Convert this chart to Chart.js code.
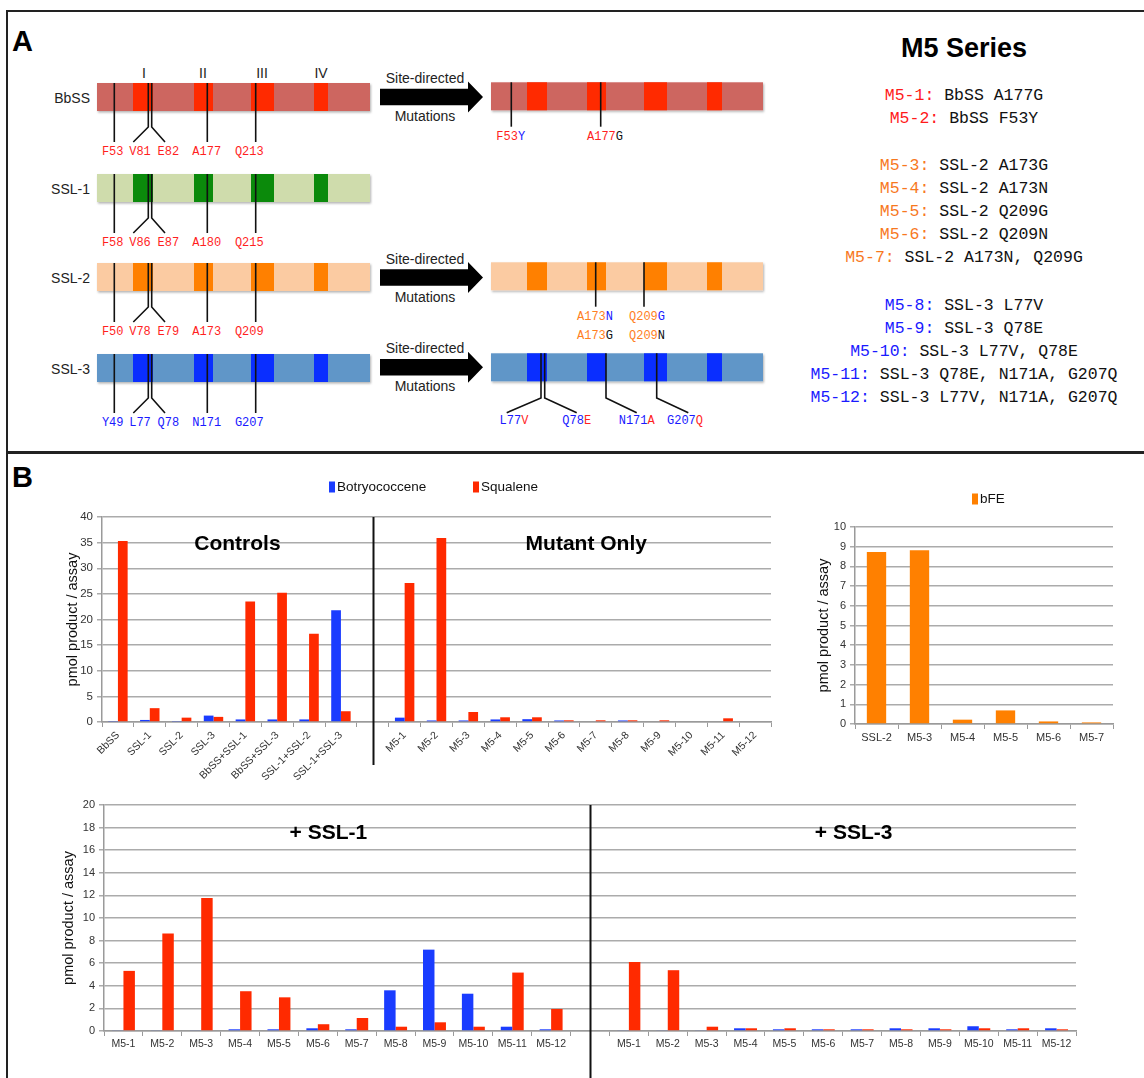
<!DOCTYPE html>
<html>
<head>
<meta charset="utf-8">
<script src="https://cdn.jsdelivr.net/npm/chart.js@4.4.0/dist/chart.umd.min.js"></script>
<style>
  html, body { margin: 0; padding: 0; background: #fff; }
  #page { position: relative; width: 1144px; height: 1078px; overflow: hidden; font-family: 'Liberation Sans', Arial, sans-serif; }
  .frame { position: absolute; left: 6px; top: 10px; width: 1160px; height: 1100px; border: 2px solid #222; }
  .split { position: absolute; left: 6px; top: 451px; width: 1160px; height: 3px; background: #222; }
  .letter { position: absolute; left: 12px; font-weight: bold; font-size: 29px; line-height: 30px; }
  #diagram { position: absolute; left: 0; top: 0; }
  #series { position: absolute; left: 780px; top: 0; width: 368px; }
  #series div { position: absolute; left: 0; width: 368px; text-align: center; white-space: pre; }
  .title { font-weight: bold; font-size: 27px; height: 32px; line-height: 32px; }
  .line { font-family: 'Liberation Mono', 'Courier New', monospace; font-size: 16.5px; height: 22px; line-height: 22px; color: #111; }
  canvas { position: absolute; }
</style>
</head>
<body>
<div id="page">
  <div class="frame"></div>
  <div class="split"></div>
  <div class="letter" style="top:26px">A</div>
  <div class="letter" style="top:462px">B</div>
  <svg id="diagram" width="800" height="450"></svg>
  <div id="series"></div>
  <canvas id="chartTop" width="730" height="320" style="left:60px; top:470px"></canvas>
  <canvas id="chartBfe" width="319" height="266" style="left:811px; top:488px"></canvas>
  <canvas id="chartBottom" width="1040" height="298" style="left:56px; top:780px"></canvas>
</div>

<script>
/* ---------- DATA ---------- */
const controlLabels = ['BbSS', 'SSL-1', 'SSL-2', 'SSL-3', 'BbSS+SSL-1', 'BbSS+SSL-3', 'SSL-1+SSL-2', 'SSL-1+SSL-3'];
const mutantLabels = ['M5-1', 'M5-2', 'M5-3', 'M5-4', 'M5-5', 'M5-6', 'M5-7', 'M5-8', 'M5-9', 'M5-10', 'M5-11', 'M5-12'];

const botryControls    = [0.2, 0.4, 0.2, 1.25, 0.5, 0.5, 0.5, 21.8];
const squaleneControls = [35.3, 2.7, 0.85, 1.0, 23.5, 25.2, 17.2, 2.1];
const botryMutant      = [0.85, 0.3, 0.3, 0.5, 0.55, 0.3, 0.15, 0.3, 0.15, 0.15, 0.15, 0.15];
const squaleneMutant   = [27.1, 35.9, 1.95, 0.92, 0.92, 0.33, 0.33, 0.33, 0.33, 0.15, 0.72, 0.15];

const bfeLabels = ['SSL-2', 'M5-3', 'M5-4', 'M5-5', 'M5-6', 'M5-7'];
const bfeValues = [8.73, 8.82, 0.22, 0.69, 0.13, 0.08];

const botrySSL1    = [0.06, 0.06, 0.06, 0.15, 0.15, 0.24, 0.15, 3.6, 7.2, 3.3, 0.38, 0.15];
const squaleneSSL1 = [5.32, 8.63, 11.76, 3.52, 2.98, 0.6, 1.15, 0.38, 0.77, 0.38, 5.17, 1.95];
const botrySSL3    = [0.06, 0.06, 0.06, 0.24, 0.15, 0.15, 0.15, 0.24, 0.24, 0.42, 0.15, 0.24];
const squaleneSSL3 = [6.1, 5.38, 0.38, 0.24, 0.24, 0.15, 0.15, 0.15, 0.15, 0.24, 0.24, 0.15];

const topTicks = [0, 5, 10, 15, 20, 25, 30, 35, 40];

/* colours */
const BLUE = '#1a3cff';
const RED = '#ff2a00';
const ORANGE = '#ff8000';

/* ---------- PANEL A : diagram ---------- */
const constructs = [
  {name: 'BbSS', light: '#cd6660', dark: '#ff2a00', sites: ['F53', 'V81', 'E82', 'A177', 'Q213'], siteColor: '#ff1f1f'},
  {name: 'SSL-1', light: '#cfdcac', dark: '#0b8a0b', sites: ['F58', 'V86', 'E87', 'A180', 'Q215'], siteColor: '#ff1f1f'},
  {name: 'SSL-2', light: '#fbcba2', dark: '#ff8000', sites: ['F50', 'V78', 'E79', 'A173', 'Q209'], siteColor: '#ff1f1f'},
  {name: 'SSL-3', light: '#6096c8', dark: '#0a2eff', sites: ['Y49', 'L77', 'Q78', 'N171', 'G207'], siteColor: '#1a1aff'},
];
const rowTops = [83, 174, 263, 354];
const leftSegs = [[133, 153], [194, 213], [251, 274], [314, 328]];
const rightSegs = [[527, 547], [587, 606], [644, 667], [707, 722]];
const siteLabelX = [112.7, 140, 168.3, 206.7, 249.3];

const R = '#ff1f1f', Bl = '#1a1aff', O = '#ff7f1f', K = '#111';

function buildDiagram(){
  const s = [];
  const mono = "font-family:'Liberation Mono','Courier New',monospace;font-size:12px";
  const sans = "font-family:'Liberation Sans',Arial,sans-serif;font-size:14px";
  s.push('<defs><filter id="sh" x="-5%" y="-20%" width="110%" height="150%"><feDropShadow dx="1" dy="1.5" stdDeviation="1" flood-opacity="0.3"/></filter></defs>');

  function bar(x1, x2, top, c, segs){
    s.push(`<rect x="${x1}" y="${top}" width="${x2 - x1}" height="28" fill="${c.light}" filter="url(#sh)"/>`);
    segs.forEach(function(g){
      s.push(`<rect x="${g[0]}" y="${top}" width="${g[1] - g[0]}" height="28" fill="${c.dark}"/>`);
    });
  }
  function ln(pts){
    s.push(`<polyline points="${pts}" fill="none" stroke="#111" stroke-width="1.6"/>`);
  }
  function txt(x, y, parts, style, anchor){
    const spans = parts.map(p => `<tspan fill="${p[1]}">${p[0]}</tspan>`).join('');
    s.push(`<text x="${x}" y="${y}" text-anchor="${anchor || 'middle'}" dominant-baseline="central" style="${style}">${spans}</text>`);
  }

  /* roman numerals */
  [['I', 144], ['II', 203], ['III', 262], ['IV', 321]].forEach(function(r){
    txt(r[1], 73, [[r[0], '#222']], sans);
  });

  /* wild-type constructs */
  constructs.forEach(function(c, i){
    const t = rowTops[i];
    bar(97, 370, t, c, leftSegs);
    txt(90, t + 15, [[c.name, '#222']], sans, 'end');
    ln(`114.3,${t} 114.3,${t + 59}`);
    ln(`148.3,${t} 148.3,${t + 44} 133.3,${t + 59}`);
    ln(`151.7,${t} 151.7,${t + 44} 165,${t + 59}`);
    ln(`207.3,${t} 207.3,${t + 59}`);
    ln(`255.7,${t} 255.7,${t + 59}`);
    c.sites.forEach(function(site, k){
      txt(siteLabelX[k], t + 68.5, [[site, c.siteColor]], mono);
    });
  });

  /* arrows */
  [97, 277.5, 367.3].forEach(function(c){
    s.push(`<polygon points="380,${c - 8.3} 468,${c - 8.3} 468,${c - 15.5} 483,${c} 468,${c + 15.5} 468,${c + 8.3} 380,${c + 8.3}" fill="#000"/>`);
    txt(425, c - 19, [['Site-directed', '#222']], sans);
    txt(425, c + 19, [['Mutations', '#222']], sans);
  });

  /* mutated constructs */
  bar(491, 763, 82.3, constructs[0], rightSegs);
  ln('511.3,82.3 511.3,126.7');
  ln('600.7,82.3 600.7,126.7');
  txt(510.7, 136.7, [['F53', R], ['Y', Bl]], mono);
  txt(605, 136.7, [['A177', R], ['G', K]], mono);

  bar(491, 763, 262.3, constructs[2], rightSegs);
  ln('595.7,262.3 595.7,306.7');
  ln('644,262.3 644,306.7');
  txt(595, 317.3, [['A173', O], ['N', Bl]], mono);
  txt(647, 317.3, [['Q209', O], ['G', Bl]], mono);
  txt(595, 335.7, [['A173', O], ['G', K]], mono);
  txt(647, 335.7, [['Q209', O], ['N', K]], mono);

  bar(491, 763, 353.3, constructs[3], rightSegs);
  ln('541,353.3 541,398 506.7,412.7');
  ln('544.7,353.3 544.7,398 576.7,412.7');
  ln('606,353.3 606,398 636.7,412.7');
  ln('656.7,353.3 656.7,398 688.3,412.7');
  txt(514, 420.7, [['L77', Bl], ['V', R]], mono);
  txt(576.7, 420.7, [['Q78', Bl], ['E', R]], mono);
  txt(636.7, 420.7, [['N171', Bl], ['A', R]], mono);
  txt(685, 420.7, [['G207', Bl], ['Q', R]], mono);

  document.getElementById('diagram').innerHTML = s.join('');
}

/* M5 series list */
const seriesNames = ['M5-1', 'M5-2', 'M5-3', 'M5-4', 'M5-5', 'M5-6', 'M5-7', 'M5-8', 'M5-9', 'M5-10', 'M5-11', 'M5-12'];
const seriesDesc = ['BbSS A177G', 'BbSS F53Y', 'SSL-2 A173G', 'SSL-2 A173N', 'SSL-2 Q209G', 'SSL-2 Q209N',
  'SSL-2 A173N, Q209G', 'SSL-3 L77V', 'SSL-3 Q78E', 'SSL-3 L77V, Q78E', 'SSL-3 Q78E, N171A, G207Q', 'SSL-3 L77V, N171A, G207Q'];
const seriesColor = ['#ff1a1a', '#ff1a1a', '#f7781e', '#f7781e', '#f7781e', '#f7781e', '#f7781e',
  '#1a1aff', '#1a1aff', '#1a1aff', '#1a1aff', '#1a1aff'];
const seriesY = [96, 119, 165.7, 188.7, 212, 235, 258.3, 305.7, 328.7, 352, 375, 398];

function buildSeries(){
  const box = document.getElementById('series');
  let html = '<div class="title" style="top:32px">M5 Series</div>';
  seriesNames.forEach(function(n, i){
    html += `<div class="line" style="top:${seriesY[i] - 11}px"><span style="color:${seriesColor[i]}">${n}:</span> ${seriesDesc[i]}</div>`;
  });
  box.innerHTML = html;
}

/* ---------- PANEL B : charts ---------- */
Chart.defaults.font.family = "'Liberation Sans', Arial, sans-serif";
Chart.defaults.color = '#333';
Chart.defaults.animation = false;

/* titles, divider lines and legend drawn on top of the chart */
const overlayPlugin = {
  id: 'overlay',
  afterDraw(chart, args, opts){
    const {ctx, chartArea, scales: {x, y}} = chart;
    const step = x.getPixelForValue(1) - x.getPixelForValue(0);
    const xAt = i => x.getPixelForValue(0) + i * step;
    ctx.save();
    (opts.dividers || []).forEach(function(d){
      const px = Math.round(xAt(d.index)) + 0.5;
      ctx.beginPath();
      ctx.strokeStyle = '#111';
      ctx.lineWidth = 2;
      ctx.moveTo(px, chartArea.top);
      ctx.lineTo(px, d.bottom);
      ctx.stroke();
    });
    ctx.fillStyle = '#000';
    ctx.textAlign = 'center';
    ctx.textBaseline = 'middle';
    ctx.font = "bold 21px 'Liberation Sans', Arial, sans-serif";
    (opts.titles || []).forEach(function(t){
      ctx.fillText(t.text, xAt(t.index), y.getPixelForValue(t.value));
    });
    if(opts.legend){
      ctx.font = "13.5px 'Liberation Sans', Arial, sans-serif";
      ctx.textAlign = 'left';
      chart.data.datasets.forEach(function(ds, i){
        const lx = opts.legend.xs[i];
        ctx.fillStyle = ds.backgroundColor;
        ctx.fillRect(lx, opts.legend.y - 5.5, 6, 11);
        ctx.fillStyle = '#111';
        ctx.fillText(ds.label, lx + 8, opts.legend.y);
      });
    }
    ctx.restore();
  }
};

function axisX(fontSize, rotation, height){
  return {
    grid: {drawOnChartArea: false, drawTicks: true, tickLength: 5, color: '#9a9a9a', offset: true},
    border: {color: '#9a9a9a', width: 1.5},
    ticks: {font: {size: fontSize}, color: '#333', autoSkip: false, minRotation: rotation, maxRotation: rotation, padding: 2},
    afterFit: function(scale){ scale.height = height; },
  };
}
function axisY(max, stepSize, width, fontSize){
  return {
    min: 0,
    max: max,
    ticks: {stepSize: stepSize, font: {size: fontSize}, color: '#333', padding: 4},
    grid: {color: '#ababab', lineWidth: 1.5, tickLength: 5},
    border: {display: true, color: '#9a9a9a', width: 1.5},
    title: {display: true, text: 'pmol product / assay', font: {size: 14.5}, color: '#111', padding: {top: 4, bottom: 0}},
    afterFit: function(scale){ scale.width = width; },
  };
}

function createTopChart(){
  const labels = [...controlLabels, '', ...mutantLabels];
  new Chart(document.getElementById('chartTop'), {
    type: 'bar',
    data: {
      labels: labels,
      datasets: [
        {label: 'Botryococcene', backgroundColor: BLUE, data: [...botryControls, null, ...botryMutant]},
        {label: 'Squalene', backgroundColor: RED, data: [...squaleneControls, null, ...squaleneMutant]},
      ],
    },
    options: {
      responsive: false,
      categoryPercentage: 0.61,
      barPercentage: 1,
      layout: {padding: {top: 47, right: 19, left: 0, bottom: 0}},
      scales: {
        x: axisX(10.5, 45, 68),
        y: Object.assign(axisY(40, 5, 42, 11.5), {afterBuildTicks: function(scale){ scale.ticks = topTicks.map(v => ({value: v})); }}),
      },
      plugins: {
        legend: {display: false},
        tooltip: {enabled: false},
        overlay: {
          dividers: [{index: 8, bottom: 295}],
          titles: [{text: 'Controls', index: 3.75, value: 34.7}, {text: 'Mutant Only', index: 14.7, value: 34.7}],
          legend: {xs: [269, 413], y: 17},
        },
      },
    },
    plugins: [overlayPlugin],
  });
}

function createBfeChart(){
  new Chart(document.getElementById('chartBfe'), {
    type: 'bar',
    data: {
      labels: bfeLabels,
      datasets: [{label: 'bFE', backgroundColor: ORANGE, data: bfeValues}],
    },
    options: {
      responsive: false,
      categoryPercentage: 0.45,
      barPercentage: 1,
      layout: {padding: {top: 39, right: 17, left: 0, bottom: 0}},
      scales: {
        x: axisX(11, 0, 30),
        y: axisY(10, 1, 44, 11),
      },
      plugins: {
        legend: {display: false},
        tooltip: {enabled: false},
        overlay: {legend: {xs: [161], y: 11}},
      },
    },
    plugins: [overlayPlugin],
  });
}

function createBottomChart(){
  new Chart(document.getElementById('chartBottom'), {
    type: 'bar',
    data: {
      labels: [...mutantLabels, '', ...mutantLabels],
      datasets: [
        {label: 'Botryococcene', backgroundColor: BLUE, data: [...botrySSL1, null, ...botrySSL3]},
        {label: 'Squalene', backgroundColor: RED, data: [...squaleneSSL1, null, ...squaleneSSL3]},
      ],
    },
    options: {
      responsive: false,
      categoryPercentage: 0.59,
      barPercentage: 1,
      layout: {padding: {top: 25, right: 20, left: 0, bottom: 0}},
      scales: {
        x: axisX(10.5, 0, 47),
        y: axisY(20, 2, 48, 11),
      },
      plugins: {
        legend: {display: false},
        tooltip: {enabled: false},
        overlay: {
          dividers: [{index: 12, bottom: 298}],
          titles: [{text: '+ SSL-1', index: 5.27, value: 17.5}, {text: '+ SSL-3', index: 18.78, value: 17.5}],
        },
      },
    },
    plugins: [overlayPlugin],
  });
}

buildDiagram();
buildSeries();
createTopChart();
createBfeChart();
createBottomChart();
</script>
</body>
</html>
